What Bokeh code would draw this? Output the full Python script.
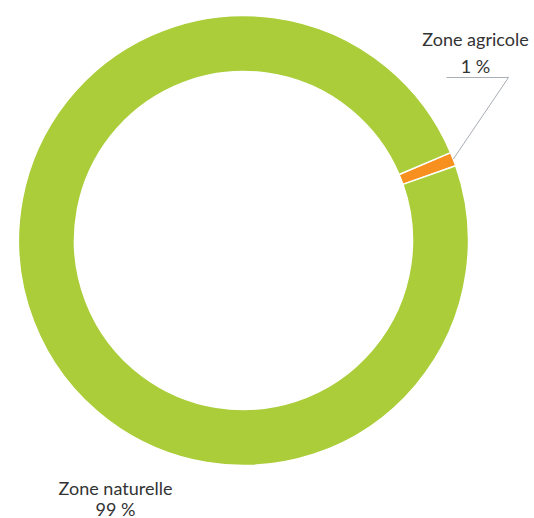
from bokeh.plotting import figure
from bokeh.models import ColumnDataSource, Range1d
from bokeh.core.properties import value
from bokeh.embed import file_html
from bokeh.resources import INLINE
import math

categories = ["Zone agricole", "Zone naturelle"]
shares = [1, 99]
value_labels = ["1 %", "99 %"]
colors = ["#F7901E", "#AACD39"]

W, H = 534, 518
p = figure(width=W, height=H, output_backend="svg", toolbar_location=None,
           x_range=Range1d(0, W), y_range=Range1d(0, H), min_border=0)
p.axis.visible = False
p.grid.visible = False
p.outline_line_color = None
p.background_fill_color = "white"

def Y(top):  # convert a top-down layout position to plot units
    return H - top

cx, cy = 243, Y(240)
r_in, r_out = 169, 225
start_deg = 23.0  # first slice starts here (math angle), going clockwise
total = sum(shares)
starts, ends = [], []
acc = 0.0
for s in shares:
    a0 = math.radians(start_deg - acc / total * 360)
    acc += s
    a1 = math.radians(start_deg - acc / total * 360)
    starts.append(a1)
    ends.append(a0)

src = ColumnDataSource(dict(start=starts, end=ends, color=colors, cat=categories))
p.annular_wedge(x=cx, y=cy, inner_radius=r_in, outer_radius=r_out,
                start_angle="start", end_angle="end", direction="anticlock",
                fill_color="color", line_color="white", line_width=1.5, source=src)

# leader line for small slice
mid = (starts[0] + ends[0]) / 2
px = cx + r_out * math.cos(mid)
py = cy + r_out * math.sin(mid)
p.line(x=[px, 508, 446], y=[py, Y(77), Y(77)], line_color="#A7AEB5", line_width=1)

font = value("Lato")
p.text(x=[475, 475], y=[Y(38), Y(65)], text=[categories[0], value_labels[0]],
       text_align="center", text_baseline="middle", text_font=font,
       text_font_size="18px", text_color="#333333")
p.text(x=[115, 115], y=[Y(487), Y(508)], text=[categories[1], value_labels[1]],
       text_align="center", text_baseline="middle", text_font=font,
       text_font_size="18px", text_color="#333333")

open("out.html", "w").write(file_html(p, INLINE))
